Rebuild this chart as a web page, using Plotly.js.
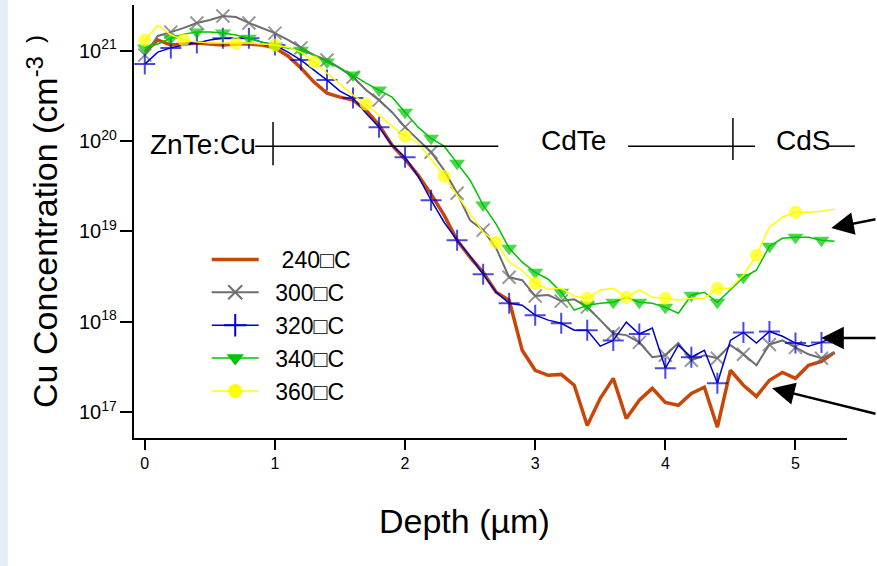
<!DOCTYPE html>
<html>
<head>
<meta charset="utf-8">
<script src="https://cdn.plot.ly/plotly-3.0.1.min.js"></script>
<style>html,body{margin:0;padding:0;background:#fff;}</style>
</head>
<body>
<div id="chart" style="width:877px;height:566px;"></div>
<script>
// Depth (µm)
const depth = [0,0.1,0.2,0.3,0.4,0.5,0.6,0.7,0.8,0.9,
  1.0,1.1,1.2,1.3,1.4,1.5,1.6,1.7,1.8,1.9,
  2.0,2.1,2.2,2.3,2.4,2.5,2.6,2.7,2.8,2.9,
  3.0,3.1,3.2,3.3,3.4,3.5,3.6,3.7,3.8,3.9,
  4.0,4.1,4.2,4.3,4.4,4.5,4.6,4.7,4.8,4.9,
  5.0,5.1,5.2,5.3,5.4];

// Cu concentration (cm^-3) per anneal temperature
const c240 = [9.6e20,1.31e21,1.15e21,1.18e21,1.21e21,1.18e21,1.15e21,1.18e21,1.18e21,1.15e21,
  1.07e21,8.7e20,6.4e20,4.48e20,3.38e20,3.05e20,2.83e20,2.19e20,1.5e20,8.97e19,
  6.28e19,4.18e19,2.58e19,1.51e19,7.96e18,5.15e18,3.52e18,2.12e18,1.73e18,4.82e17,
  2.9e17,2.55e17,2.61e17,1.98e17,7.1e16,1.42e17,2.36e17,8.5e16,1.35e17,1.83e17,
  1.28e17,1.19e17,1.61e17,1.88e17,6.8e16,2.9e17,1.98e17,1.49e17,2.25e17,2.75e17,
  2.36e17,3.29e17,3.64e17,4.58e17,null];

const c300 = [8.9e20,1.45e21,1.6e21,1.78e21,2.02e21,2.18e21,2.41e21,2.35e21,2.02e21,1.78e21,
  1.56e21,1.31e21,1.07e21,8.9e20,7.85e20,6.4e20,5.08e20,3.66e20,2.83e20,2.08e20,
  1.42e20,1.02e20,7.5e19,4.75e19,2.64e19,1.32e19,1.03e19,6.5e18,3.1e18,2.88e18,
  1.92e18,1.97e18,1.69e18,1.77e18,1.45e18,1.04e18,7.4e17,7.1e17,5.9e17,4.04e17,
  4.25e17,5.8e17,3.74e17,4.25e17,3.94e17,5.5e17,4.36e17,3.29e17,5.6e17,6.2e17,
  5.2e17,4.36e17,3.94e17,4.58e17,null];

const c320 = [7.08e20,9.6e20,1.07e21,1.15e21,1.21e21,1.31e21,1.37e21,1.37e21,1.37e21,1.24e21,
  1.15e21,9.6e20,7.85e20,6.08e20,4.71e20,3.56e20,2.98e20,2.03e20,1.42e20,8.97e19,
  6.6e19,4.07e19,2.21e19,1.26e19,7.96e18,5.3e18,3.35e18,2.12e18,1.6e18,1.52e18,
  1.18e18,1.04e18,9.6e17,8.05e17,8.05e17,5.36e17,6.2e17,9.9e17,7.3e17,8.5e17,
  3.05e17,5.5e17,4.04e17,4.83e17,2.08e17,6.2e17,7.6e17,5.8e17,7.8e17,6.9e17,
  5.8e17,5.36e17,5.9e17,6.9e17,null];

const c340 = [1.07e21,1.18e21,1.37e21,1.52e21,1.6e21,1.6e21,1.56e21,1.49e21,1.37e21,1.24e21,
  1.12e21,1.07e21,1.01e21,8.9e20,7.46e20,6.4e20,5.36e20,4.37e20,3.66e20,3.05e20,
  2.08e20,1.42e20,1.07e20,8.75e19,5.68e19,3.68e19,1.95e19,1.2e19,6.5e18,4.55e18,
  3.52e18,2.95e18,2.12e18,1.34e18,1.52e18,1.6e18,1.64e18,1.86e18,1.64e18,1.6e18,
  1.44e18,1.24e18,1.96e18,2.12e18,1.64e18,2.23e18,3.1e18,3.71e18,6.84e18,8.37e18,
  8.6e18,8.6e18,7.96e18,7.76e18,null];

const c360 = [1.31e21,1.91e21,1.49e21,1.31e21,1.24e21,1.21e21,1.21e21,1.21e21,1.21e21,1.18e21,
  1.15e21,1.09e21,9.6e20,7.46e20,5.64e20,4.26e20,3.21e20,2.56e20,1.93e20,1.46e20,
  1.13e20,9.46e19,6.28e19,4.07e19,2.51e19,1.58e19,9.8e18,7.57e18,4.55e18,3.71e18,
  2.66e18,2.29e18,2.34e18,1.91e18,1.82e18,2.23e18,2.34e18,1.86e18,2.23e18,1.86e18,
  1.82e18,1.73e18,1.82e18,1.82e18,2.34e18,2.34e18,3.27e18,5.43e18,1.11e19,1.43e19,
  1.63e19,1.63e19,1.67e19,1.76e19,null];

const seriesNames = ["\u2002\u00a0240\u25a1C","\u2002300\u25a1C","\u2002320\u25a1C","\u2002340\u25a1C","\u2002360\u25a1C"];
const xTickVals = [0,1,2,3,4,5];
const layerLabels = ["ZnTe:Cu","CdTe","CdS"];

const FONT = 'Arial, "Liberation Sans", sans-serif';

// marker visibility (every other sample; 360 C every ~3.35 samples)
const every2 = depth.map((d,i)=> i%2===0);
const yellowIdx = new Set(); for(let k=0;k*3.35<depth.length;k++) yellowIdx.add(Math.round(k*3.35));
const every335 = depth.map((d,i)=> yellowIdx.has(i));

const styles = [
  {line:{color:'#c84608',width:3.5}, mode:'lines'},
  {line:{color:'#6e6e6e',width:2}, mode:'lines+markers', sym:'x-thin', size:13, mcolor:'#6e6e6e', lw:2, show:every2},
  {line:{color:'#0000cc',width:1.5}, mode:'lines+markers', sym:'cross-thin', size:15, mcolor:'#0000cc', lw:2, show:every2},
  {line:{color:'#00c400',width:1.5}, mode:'lines+markers', sym:'triangle-down', size:14, mcolor:'#00c400', lw:0, show:every2},
  {line:{color:'#ffff00',width:1.5}, mode:'lines+markers', sym:'circle', size:13, mcolor:'#ffff00', lw:0, show:every335}
];
const values = [c240,c300,c320,c340,c360];

const traces = [];
values.forEach((vals, s)=>{
  const st = styles[s];
  const t = {x: depth, y: vals, type:'scatter', mode: st.mode, line: st.line,
    name: seriesNames[s], showlegend:false, legendgroup:'g'+s, cliponaxis:false, hoverinfo:'x+y'};
  if (st.sym) {
    t.marker = {symbol: st.sym, color: st.mcolor, size: st.show.map(v=> v? st.size : 0),
      line:{color: st.mcolor, width: st.lw}};
  }
  traces.push(t);
});
// legend entries
values.forEach((vals, s)=>{
  const st = styles[s];
  const t = {x:[null], y:[null], type:'scatter', mode: st.mode, line: st.line,
    name: seriesNames[s], showlegend:true, legendgroup:'g'+s};
  if (st.sym) t.marker = {symbol: st.sym, color: st.mcolor, size: st.size+1, line:{color: st.mcolor, width: st.lw}};
  traces.push(t);
});

const shapes = [
  // light slide strip at left edge
  {type:'rect', xref:'paper', yref:'paper', x0:-0.19, x1:-0.177, y0:-0.32, y1:1.03, fillcolor:'#e6edf6', line:{width:0}, layer:'below'},
  // layer boundary markers
  {type:'line', xref:'paper', yref:'paper', x0:0.170, x1:0.511, y0:0.674, y1:0.674, line:{color:'#000', width:1.5}},
  {type:'line', xref:'paper', yref:'paper', x0:0.195, x1:0.195, y0:0.730, y1:0.630, line:{color:'#000', width:1.5}},
  {type:'line', xref:'paper', yref:'paper', x0:0.693, x1:0.871, y0:0.674, y1:0.674, line:{color:'#000', width:1.5}},
  {type:'line', xref:'paper', yref:'paper', x0:0.840, x1:0.840, y0:0.739, y1:0.642, line:{color:'#000', width:1.5}},
  {type:'line', xref:'paper', yref:'paper', x0:0.973, x1:1.011, y0:0.674, y1:0.674, line:{color:'#000', width:1.5}}
];

const labelFont = {family: FONT, size: 28, color:'#000'};
const annotations = [
  {xref:'paper', yref:'paper', x:0.019, y:0.677, xanchor:'left', yanchor:'middle', text:layerLabels[0], showarrow:false, font:labelFont},
  {xref:'paper', yref:'paper', x:0.568, y:0.687, xanchor:'left', yanchor:'middle', text:layerLabels[1], showarrow:false, font:labelFont},
  {xref:'paper', yref:'paper', x:0.898, y:0.687, xanchor:'left', yanchor:'middle', text:layerLabels[2], showarrow:false, font:labelFont},
  // x title
  {xref:'paper', yref:'paper', x:0.463, y:-0.192, xanchor:'center', yanchor:'middle', text:'Depth (µm)', showarrow:false, font:{family:FONT, size:34, color:'#000'}},
  // arrows
  {xref:'paper', yref:'paper', x:0.978, y:0.485, ax:55, ay:-9, text:'', showarrow:true, arrowhead:2, arrowsize:1.8, arrowwidth:2.5, arrowcolor:'#000', standoff:0},
  {xref:'paper', yref:'paper', x:0.964, y:0.231, ax:62, ay:0, text:'', showarrow:true, arrowhead:2, arrowsize:1.8, arrowwidth:2.5, arrowcolor:'#000', standoff:0},
  {xref:'paper', yref:'paper', x:0.895, y:0.115, ax:114, ay:26, text:'', showarrow:true, arrowhead:2, arrowsize:1.8, arrowwidth:2.5, arrowcolor:'#000', standoff:0}
];

const layout = {
  width:877, height:566,
  margin:{l:134, r:30, t:5, b:128},
  paper_bgcolor:'#fff', plot_bgcolor:'#fff',
  font:{family:FONT, color:'#000'},
  showlegend:true,
  legend:{x:0.102, y:0.462, xanchor:'left', yanchor:'top', bgcolor:'rgba(0,0,0,0)', borderwidth:0,
    font:{family:FONT, size:23, color:'#000'}, itemwidth:47, traceorder:'normal'},
  xaxis:{range:[-0.083, 5.396], tickvals:xTickVals, ticks:'outside', ticklen:10, tickwidth:1.5, tickcolor:'#000',
    showline:true, linecolor:'#000', linewidth:2, showgrid:false, zeroline:false,
    tickfont:{family:FONT, size:16, color:'#000'}},
  yaxis:{type:'log', range:[16.713, 21.504], dtick:1, exponentformat:'power', ticks:'outside', ticklen:12, tickwidth:1.5, tickcolor:'#000',
    showline:true, linecolor:'#000', linewidth:2, showgrid:false, zeroline:false,
    tickfont:{family:FONT, size:16, color:'#000'},
    title:{text:'Cu Concentration (cm<sup>-3\u00a0\u00a0)</sup>', font:{family:FONT, size:34, color:'#000'}, standoff:11}},
  shapes: shapes,
  annotations: annotations
};

Plotly.newPlot('chart', traces, layout, {displayModeBar:false, responsive:false});
</script>
</body>
</html>
